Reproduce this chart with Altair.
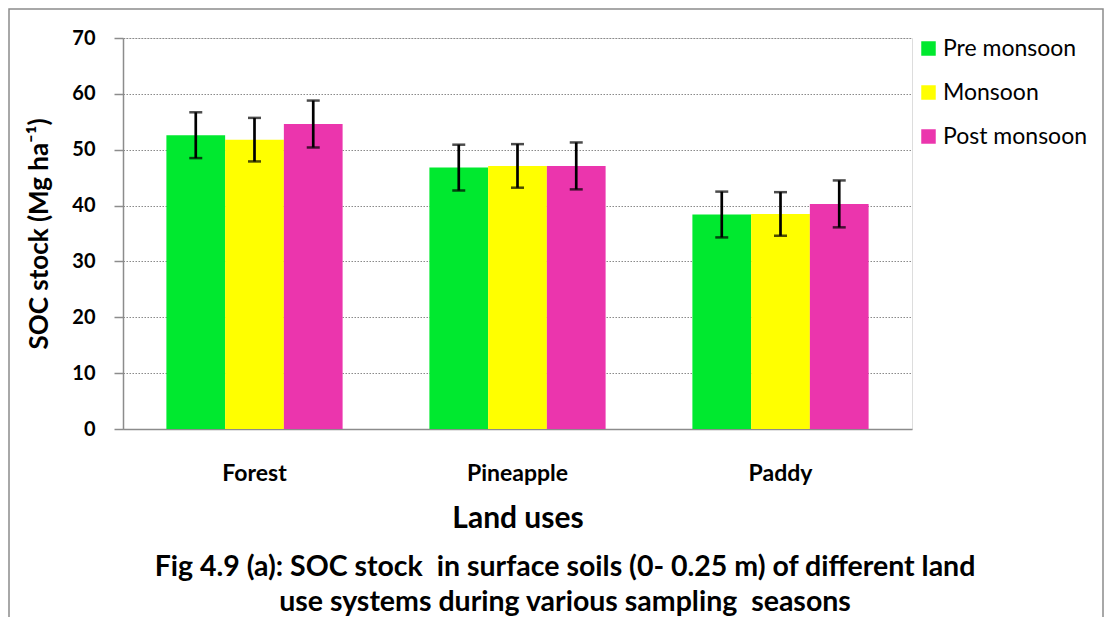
import altair as alt
import pandas as pd

land_uses = ["Forest", "Pineapple", "Paddy"]
seasons = ["Pre monsoon", "Monsoon", "Post monsoon"]
pre_monsoon = [52.6, 46.8, 38.4]
monsoon = [51.8, 47.1, 38.5]
post_monsoon = [54.6, 47.1, 40.3]
err_pre = [4.1, 4.1, 4.1]
err_mon = [3.9, 3.9, 3.9]
err_post = [4.2, 4.2, 4.2]
colors = ["#00E92F", "#FFFF00", "#EB35AD"]
y_ticks = [0, 10, 20, 30, 40, 50, 60, 70]
y_title = "SOC stock (Mg ha⁻¹)"
x_title = "Land uses"
caption = [
    "Fig 4.9 (a): SOC stock\u00a0 in surface soils (0- 0.25 m) of different land",
    "use systems during various sampling\u00a0 seasons",
]

rows = []
for s, vals, errs in zip(seasons, [pre_monsoon, monsoon, post_monsoon], [err_pre, err_mon, err_post]):
    for l, v, e in zip(land_uses, vals, errs):
        rows.append({"land": l, "season": s, "value": v, "lo": v - e, "hi": v + e})
df = pd.DataFrame(rows)

FONT = "Lato"
W, H = 789, 391
GRAY = "#8c8c8c"

x = alt.X(
    "land:N", sort=land_uses,
    scale=alt.Scale(paddingInner=0.33, paddingOuter=0.165),
    axis=alt.Axis(title=x_title, labelAngle=0, ticks=False, labelPadding=33,
                  labelFont=FONT, labelFontSize=23, labelFontWeight="bold", labelColor="black",
                  titleFont=FONT, titleFontSize=30, titleFontWeight="bold", titleColor="black",
                  titlePadding=18, domainColor=GRAY, domainWidth=1.5, grid=False),
)
xoff = alt.XOffset("season:N", sort=seasons, scale=alt.Scale(paddingInner=0, paddingOuter=0))
yscale = alt.Scale(domain=[0, 70], nice=False)
yaxis = alt.Axis(
    values=y_ticks, title=y_title, grid=True, gridDash=[1.5, 1.5], gridColor="#8a8a8a", gridWidth=1.2,
    tickColor=GRAY, tickSize=9, tickWidth=1.5, domainColor=GRAY, domainWidth=1.5,
    labelFont=FONT, labelFontSize=20, labelFontWeight="bold", labelColor="black", labelPadding=19,
    titleFont=FONT, titleFontSize=26, titleFontWeight="bold", titleColor="black", titlePadding=19,
)

base = alt.Chart(df)
bars = base.mark_bar().encode(
    x=x, xOffset=xoff,
    y=alt.Y("value:Q", scale=yscale, axis=yaxis),
    color=alt.Color("season:N", sort=seasons, scale=alt.Scale(domain=seasons, range=colors),
                    legend=alt.Legend(title=None, orient="none", legendX=794, legendY=-1,
                                      symbolType="square", symbolSize=210, symbolStrokeWidth=0,
                                      labelFont=FONT, labelFontSize=23, labelColor="black",
                                      rowPadding=20, labelOffset=3, padding=0)),
)
rules = base.mark_rule(color="black", strokeWidth=2.7).encode(
    x=x, xOffset=xoff,
    y=alt.Y("lo:Q", scale=yscale, axis=yaxis), y2="hi:Q",
)
cap_hi = base.mark_tick(color="black", size=13, thickness=2.5, orient="horizontal").encode(
    x=x, xOffset=xoff, y=alt.Y("hi:Q", scale=yscale, axis=yaxis),
)
cap_lo = base.mark_tick(color="black", size=13, thickness=2.5, orient="horizontal").encode(
    x=x, xOffset=xoff, y=alt.Y("lo:Q", scale=yscale, axis=yaxis),
)

border = alt.Chart(pd.DataFrame({"k": [0]})).mark_rect(
    fill="transparent", stroke=GRAY, strokeWidth=1.5
).encode(x=alt.value(-114), x2=alt.value(980), y=alt.value(-29), y2=alt.value(700))

cap1 = alt.Chart(pd.DataFrame({"t": [caption[0]]})).mark_text(
    font=FONT, fontSize=28.5, fontWeight="bold", color="black", align="center", baseline="middle"
).encode(text="t:N", x=alt.value(442), y=alt.value(529))
cap2 = alt.Chart(pd.DataFrame({"t": [caption[1]]})).mark_text(
    font=FONT, fontSize=28.5, fontWeight="bold", color="black", align="center", baseline="middle"
).encode(text="t:N", x=alt.value(442), y=alt.value(564))

chart = alt.layer(border, bars, rules, cap_hi, cap_lo, cap1, cap2).properties(
    width=W, height=H,
    autosize=alt.AutoSizeParams(type="none"),
    padding={"left": 115, "top": 30, "right": 193, "bottom": 188},
).configure_view(stroke=None).configure(background="white")

chart.save("out.html", embed_options={"renderer": "svg", "actions": False})
